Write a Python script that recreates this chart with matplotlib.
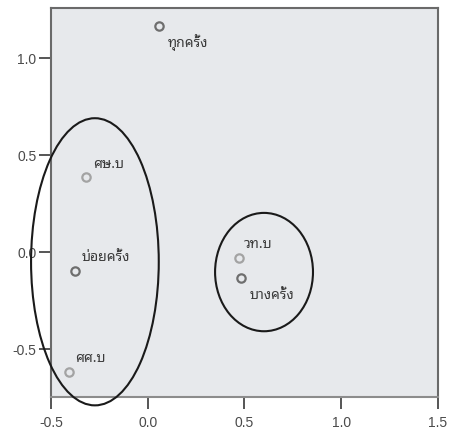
import matplotlib
matplotlib.use("Agg")
import matplotlib.pyplot as plt
from matplotlib.patches import Ellipse

# correspondence map coordinates
freq_labels = ["ทุกครั้ง", "บ่อยครั้ง", "บางครั้ง"]
freq_x = [0.058, -0.378, 0.483]
freq_y = [1.165, -0.098, -0.132]

degree_labels = ["ศษ.บ", "ศศ.บ", "วท.บ"]
degree_x = [-0.319, -0.409, 0.470]
degree_y = [0.387, -0.619, -0.031]

# group ellipses: centre x, centre y, width, height
group_cx = [-0.273, 0.601]
group_cy = [-0.050, -0.103]
group_w = [0.66, 0.506]
group_h = [1.48, 0.61]

x_ticks = [-0.5, 0.0, 0.5, 1.0, 1.5]
y_ticks = [-0.5, 0.0, 0.5, 1.0]

thai_font = ["Noto Sans Thai Looped", "Noto Sans Thai", "DejaVu Sans"]
plt.rcParams["font.family"] = ["Liberation Sans", "DejaVu Sans"]

fig = plt.figure(figsize=(4.5, 4.33), dpi=100)
ax = fig.add_axes([0.1133, 0.0831, 0.86, 0.8984])
ax.set_facecolor("#e7e9ec")

ax.plot(degree_x, degree_y, "o", ms=6, mfc="none", mec="#a3a3a3", mew=1.6,
        linestyle="None")
ax.plot(freq_x, freq_y, "o", ms=6, mfc="none", mec="#6e6e6e", mew=1.6,
        linestyle="None")

# label offsets in points: most go up-right, two go below
offsets = {
    "ทุกครั้ง": (6, -12),
    "บ่อยครั้ง": (5, 10),
    "บางครั้ง": (6, -13),
    "ศษ.บ": (5, 9),
    "ศศ.บ": (5, 10),
    "วท.บ": (4, 10),
}
for lab, x, y in zip(freq_labels + degree_labels, freq_x + degree_x,
                     freq_y + degree_y):
    ax.annotate(lab, (x, y), textcoords="offset points", xytext=offsets[lab],
                ha="left", va="center", fontsize=10, color="#3a3a3a",
                family=thai_font)

for cx, cy, w, h in zip(group_cx, group_cy, group_w, group_h):
    ax.add_patch(Ellipse((cx, cy), w, h, fill=False, edgecolor="#1a1a1a",
                         linewidth=1.5, clip_on=False, zorder=5))

ax.set_xlim(-0.5, 1.5)
ax.set_ylim(-0.747, 1.258)
ax.set_xticks(x_ticks)
ax.set_yticks(y_ticks)
ax.set_xticklabels([f"{t:.1f}" for t in x_ticks])
ax.set_yticklabels([f"{t:.1f}" for t in y_ticks])
ax.tick_params(direction="out", length=8.5, width=1.4, color="#555555",
               labelsize=10, labelcolor="#4a4a4a")
ax.tick_params(axis="x", pad=5)
ax.tick_params(axis="y", pad=2)
for sp in ax.spines.values():
    sp.set_color("#6a6a6a")
    sp.set_linewidth(1.5)
ax.spines["bottom"].set_color("#8c8c8c")

fig.savefig("out.png", dpi=100)
